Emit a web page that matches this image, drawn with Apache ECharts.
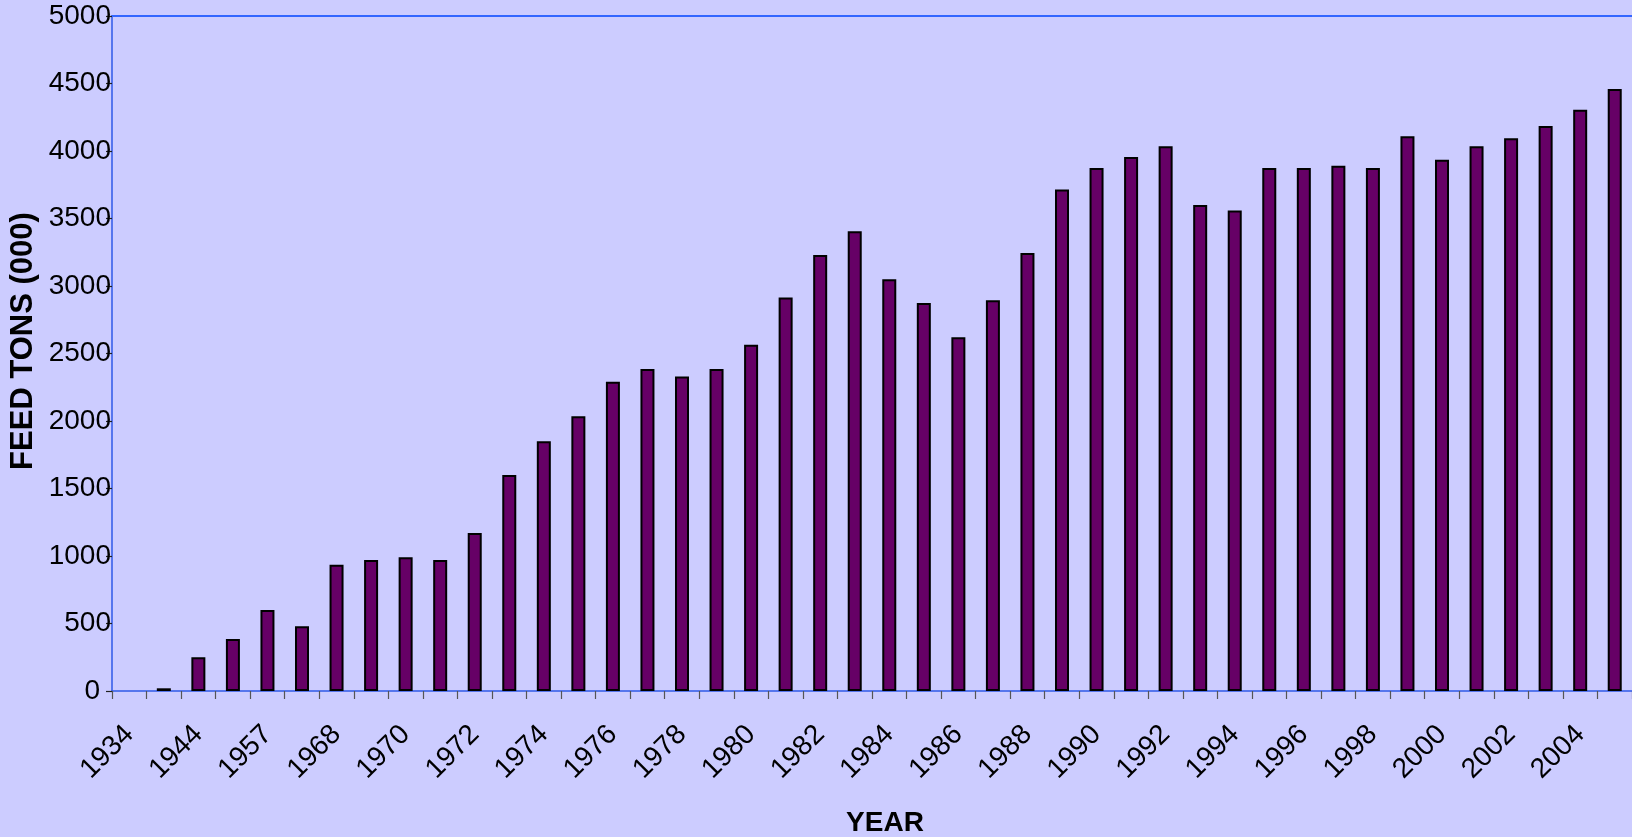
<!DOCTYPE html>
<html>
<head>
<meta charset="utf-8">
<script src="https://cdn.jsdelivr.net/npm/echarts@6/dist/echarts.min.js"></script>
<style>
  html, body { margin: 0; padding: 0; background: #CCCCFF; }
  #chart { width: 1632px; height: 837px; }
</style>
</head>
<body>
<div id="chart"></div>
<script>
// Categories (labels at 1, 3, 5 are hidden in the reference; names are estimates)
const years = ['1934', '1940', '1944', '1950', '1957', '1962', '1968', '1969', '1970', '1971',
  '1972', '1973', '1974', '1975', '1976', '1977', '1978', '1979', '1980', '1981',
  '1982', '1983', '1984', '1985', '1986', '1987', '1988', '1989', '1990', '1991',
  '1992', '1993', '1994', '1995', '1996', '1997', '1998', '1999', '2000', '2001',
  '2002', '2003', '2004', '2005'];

// Feed tons (000)
const feedTons = [0, 20, 250, 385, 600, 480, 935, 970, 990, 970,
  1170, 1600, 1850, 2035, 2290, 2385, 2330, 2385, 2565, 2915,
  3230, 3405, 3050, 2875, 2620, 2895, 3245, 3715, 3875, 3955,
  4035, 3600, 3560, 3875, 3875, 3890, 3875, 4110, 3935, 4035,
  4095, 4185, 4305, 4460];

const yTicks = { min: 0, max: 5000, interval: 500 };

const yTitle = 'FEED TONS (000)';
const xTitle = 'YEAR';

const chart = echarts.init(document.getElementById('chart'), null, { renderer: 'canvas' });
const font = 'Liberation Sans, Arial, sans-serif';

chart.setOption({
  backgroundColor: '#CCCCFF',
  animation: false,
  grid: { left: 112, top: 16, width: 1524, height: 675, containLabel: false },
  xAxis: [{
    type: 'category',
    data: years,
    position: 'bottom',
    axisLine: { show: true, lineStyle: { color: '#2f5ae8', width: 1.5 } },
    axisTick: { show: true, interval: 0, length: 8, lineStyle: { color: '#555555', width: 1.2 } },
    axisLabel: {
      interval: 1, rotate: 45, margin: 39,
      fontSize: 28, color: '#000', fontFamily: font
    },
    splitLine: { show: false }
  }, {
    type: 'category',
    data: years,
    position: 'top',
    axisLine: { show: true, lineStyle: { color: '#3366ff', width: 2 } },
    axisTick: { show: false },
    axisLabel: { show: false },
    splitLine: { show: false }
  }],
  yAxis: {
    type: 'value',
    min: yTicks.min, max: yTicks.max, interval: yTicks.interval,
    axisLine: { show: true, lineStyle: { color: '#2f5ae8', width: 1.5 } },
    axisTick: { show: true, length: 6, lineStyle: { color: '#222', width: 1.2 } },
    axisLabel: {
      margin: 1, fontSize: 28, color: '#000', fontFamily: font,
      formatter: v => (v === 0 ? '{z|0}' : String(v)),
      rich: { z: { fontSize: 28, color: '#000', fontFamily: font, padding: [0, 11, 0, 0] } }
    },
    splitLine: { show: false }
  },
  series: [{
    type: 'bar',
    xAxisIndex: 0,
    data: feedTons.map(v => v === 0 ? { value: v, itemStyle: { borderWidth: 0 } } : v),
    barWidth: 14,
    itemStyle: { color: '#660066', borderColor: '#000000', borderWidth: 2 }
  }],
  graphic: [{
    type: 'text',
    x: 23, y: 341,
    rotation: Math.PI / 2,
    style: { text: yTitle, fontSize: 31, fontWeight: 'bold', fill: '#000', fontFamily: font,
             align: 'center', verticalAlign: 'middle' },
    silent: true
  }, {
    type: 'text',
    x: 885, y: 823,
    style: { text: xTitle, fontSize: 28, fontWeight: 'bold', fill: '#000', fontFamily: font,
             align: 'center', verticalAlign: 'middle' },
    silent: true
  }]
});
</script>
</body>
</html>
